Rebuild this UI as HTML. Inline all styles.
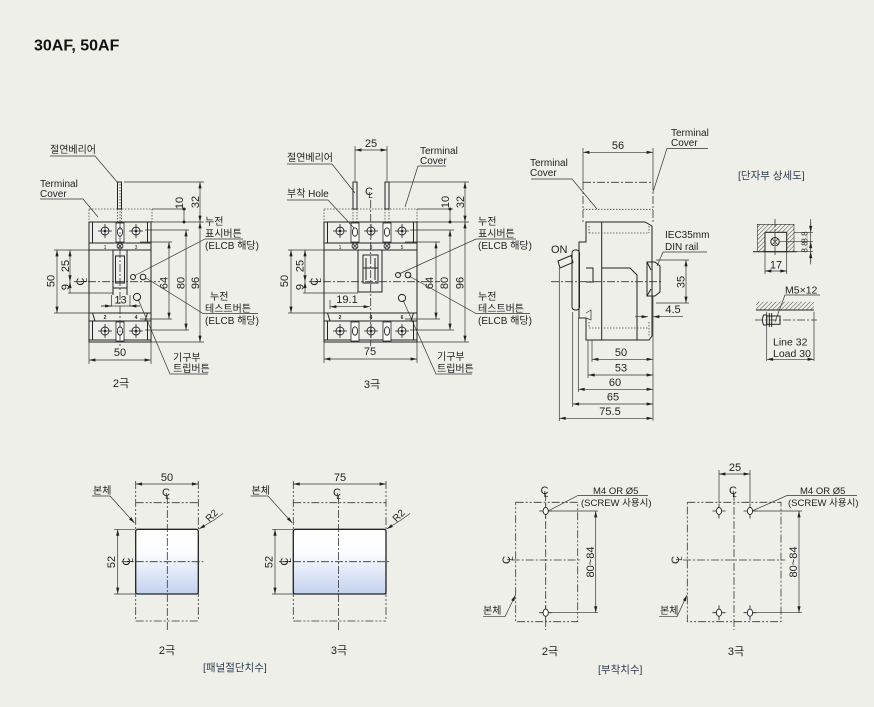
<!DOCTYPE html>
<html><head><meta charset="utf-8"><style>
html,body{margin:0;padding:0;background:#efefea;}
svg{display:block}
text{font-family:"Liberation Sans","Noto Sans CJK KR",sans-serif;fill:#1e1e1e;font-size:10px}
.k{stroke:#222;fill:none;stroke-width:1}
.kf{stroke:#222;stroke-width:1}
.t{stroke:#333;fill:none;stroke-width:0.7}
.cl{stroke:#333;fill:none;stroke-width:0.8;stroke-dasharray:8 2 2 2}
.cc{stroke:#333;fill:none;stroke-width:0.8;stroke-dasharray:8 2 2 2 2 2}
.dt{stroke:#444;fill:none;stroke-width:0.8;stroke-dasharray:1.5 1.5}
.d{stroke:#333;fill:none;stroke-width:0.7;marker-start:url(#a);marker-end:url(#a)}
.e{stroke:#333;fill:none;stroke-width:0.7;marker-end:url(#a)}
.m{text-anchor:middle}
.s{font-size:11px}
.c{fill:#2d3b4d;font-size:10.5px}
</style></head><body>
<svg width="874" height="707" viewBox="0 0 874 707" xmlns="http://www.w3.org/2000/svg">
<defs>
<marker id="a" viewBox="0 0 8 4" refX="8" refY="2" markerWidth="7" markerHeight="3.2" markerUnits="userSpaceOnUse" orient="auto-start-reverse"><path d="M0,0L8,2L0,4z" fill="#222"/></marker>
<linearGradient id="g" x1="0" y1="0" x2="0" y2="1">
<stop offset="0" stop-color="#ffffff"/><stop offset="0.4" stop-color="#fdfdff"/><stop offset="1" stop-color="#c2d0ee"/>
</linearGradient>
<linearGradient id="g2" x1="0" y1="0" x2="0" y2="1">
<stop offset="0" stop-color="#ffffff"/><stop offset="0.35" stop-color="#fcfdff"/><stop offset="1" stop-color="#c3d1ef"/>
</linearGradient>
<pattern id="tc" width="4" height="13" patternUnits="userSpaceOnUse" x="0" y="209"><rect x="0.6" y="3" width="2.8" height="2.6" fill="none" stroke="#999" stroke-width="0.5"/><rect x="0.6" y="7" width="2.8" height="2.6" fill="none" stroke="#999" stroke-width="0.5"/></pattern>
<pattern id="h" width="3" height="3" patternUnits="userSpaceOnUse" patternTransform="rotate(45)"><line x1="0" y1="0" x2="0" y2="3" stroke="#333" stroke-width="0.9"/></pattern>
<g id="xh"><circle r="4" fill="#fff" stroke="#222" stroke-width="0.9"/><path d="M-7,0H7M0,-7V7" stroke="#222" stroke-width="0.8"/><circle r="1.3" fill="#222"/></g>
<g id="sl"><rect x="-4" y="-9" width="8" height="19" fill="#fff" stroke="#222" stroke-width="0.8"/><ellipse rx="2.6" ry="4.2" fill="#fff" stroke="#222" stroke-width="0.9"/></g>
<g id="sc"><circle r="3" fill="#ddd" stroke="#222" stroke-width="0.8"/><path d="M-2,-2L2,2M2,-2L-2,2" stroke="#222" stroke-width="0.7"/></g>
<g id="ho"><ellipse rx="2.6" ry="3.6" fill="#fff" stroke="#222" stroke-width="0.9"/><path d="M-6.5,0H-2.6M2.6,0H6.5M0,-7.5V-3.6M0,3.6V7.5" stroke="#222" stroke-width="0.8"/></g>
</defs>
<rect width="874" height="707" fill="#efefea"/>

<text x="34" y="50.5" style="font-size:16px;font-weight:bold;fill:#111">30AF, 50AF</text>

<!-- ================= 2-POLE FRONT ================= -->
<rect x="89" y="209" width="63" height="13" fill="url(#tc)" class="dt"/>
<rect x="117.5" y="182" width="4" height="27" fill="#fff" class="k"/>
<path class="dt" d="M117.5,209V222M121.5,209V222"/>
<rect x="89" y="222" width="62" height="120" fill="url(#g)" class="k"/>
<path class="k" d="M89,243H151M89,250H151M92.5,222V243M147.5,222V243M89,313H151M89,321H151M92.5,321V340M147.5,321V340M89,340H151M92.5,313L95,321M147.5,313L145,321"/>
<use href="#xh" x="105" y="231"/><use href="#xh" x="136" y="231"/>
<use href="#sl" x="120" y="232"/><use href="#sc" x="120" y="246"/>
<text x="105" y="249" class="m" style="font-size:5px">1</text><text x="136" y="249" class="m" style="font-size:5px">3</text>
<text x="105" y="319" class="m" style="font-size:5px;font-weight:bold">2</text><text x="136" y="319" class="m" style="font-size:5px;font-weight:bold">4</text>
<rect x="113" y="250" width="14" height="38" fill="#fff" class="k"/>
<rect x="115.5" y="256" width="9" height="27" fill="#f4f6fc" class="k"/>
<path class="k" d="M113,288V295M127,288V295"/>
<use href="#xh" x="105" y="331"/><use href="#xh" x="136" y="331"/>
<use href="#sl" x="120" y="331"/>
<circle cx="133" cy="277" r="2.5" fill="#fff" class="k"/><circle cx="143" cy="277" r="2.8" fill="#fff" class="k"/>
<circle cx="137" cy="297" r="3.6" fill="#fff" class="k"/>
<path class="cl" d="M74,281.7H160M120,222V346"/>
<path class="dt" d="M120,184V222"/>
<!-- dims 2-pole -->
<path class="t" d="M89,342V364M151,342V364"/>
<line x1="89" y1="360" x2="151" y2="360" class="d"/>
<text x="120" y="356" class="m s">50</text>
<path class="t" d="M54,250H113M54,313H100M68,293H113"/>
<line x1="57" y1="250" x2="57" y2="313" class="d"/>
<text transform="translate(54.5,281) rotate(-90)" class="m s">50</text>
<line x1="70" y1="250" x2="70" y2="281.7" class="d"/>
<text transform="translate(69,266) rotate(-90)" class="m s">25</text>
<line x1="70" y1="293" x2="70" y2="281.7" class="e"/>
<text transform="translate(69,287) rotate(-90)" class="m s">9</text>
<g transform="translate(80,281.7) rotate(-90)"><text x="0" y="4" class="m" style="font-size:11px">C</text><text x="1.5" y="7" class="m" style="font-size:8px">L</text></g>
<path class="t" d="M111.5,295V306.5M130,295V306.5"/>
<path class="t" d="M101,306H140"/>
<line x1="101" y1="306" x2="111.5" y2="306" class="e"/><line x1="140" y1="306" x2="130" y2="306" class="e"/>
<text x="120.5" y="303.5" class="m s">13</text>
<path class="t" d="M152,209H186M152,222H204M124,182H204M151,342H204M145,230H189M145,330H189M140,242H172M140,319H172"/>
<line x1="184" y1="209" x2="184" y2="222" class="t"/>
<circle cx="184" cy="209" r="1.5" fill="#222"/><circle cx="184" cy="222" r="1.5" fill="#222"/>
<text transform="translate(183,203) rotate(-90)" class="m s">10</text>
<line x1="200" y1="182" x2="200" y2="222" class="d"/>
<text transform="translate(199,202) rotate(-90)" class="m s">32</text>
<line x1="200" y1="222" x2="200" y2="342" class="d"/>
<text transform="translate(199,283) rotate(-90)" class="m s">96</text>
<line x1="186" y1="230" x2="186" y2="330" class="d"/>
<text transform="translate(184.5,283) rotate(-90)" class="m s">80</text>
<line x1="169" y1="242" x2="169" y2="319" class="d"/>
<text transform="translate(167.5,283) rotate(-90)" class="m s">64</text>
<!-- labels 2-pole -->
<text x="50" y="153">절연베리어</text>
<path class="t" d="M50,156H95L118,183"/>
<text x="40" y="187">Terminal</text><text x="40" y="197">Cover</text>
<path class="t" d="M40,199H83L98,217"/>
<text x="205" y="225">누전</text><text x="205" y="237">표시버튼</text><text x="205" y="249">(ELCB 해당)</text>
<path class="t" d="M243,239H205L134,276"/>
<text x="210" y="300">누전</text><text x="205" y="312">테스트버튼</text><text x="205" y="324">(ELCB 해당)</text>
<path class="t" d="M258,313.5H203L146,278"/>
<text x="173" y="361">기구부</text><text x="173" y="372">트립버튼</text>
<path class="t" d="M208,374H170L138,299"/>
<text x="121" y="387" class="m s">2극</text>

<!-- ================= 3-POLE FRONT ================= -->
<rect x="324" y="209" width="93" height="13" fill="url(#tc)" class="dt"/>
<rect x="353" y="182" width="4" height="27" fill="#fff" class="k"/>
<rect x="385" y="182" width="4" height="27" fill="#fff" class="k"/>
<path class="dt" d="M353,209V222M357,209V222M385,209V222M389,209V222"/>
<rect x="324" y="222" width="93" height="120" fill="url(#g)" class="k"/>
<path class="k" d="M324,243H417M324,250H417M327.5,222V243M413.5,222V243M324,313H417M324,321H417M327.5,321V340M413.5,321V340M324,340H417M327.5,313L330,321M413.5,313L411,321"/>
<use href="#xh" x="340" y="231"/><use href="#xh" x="371" y="231"/><use href="#xh" x="402" y="231"/>
<use href="#sl" x="355" y="232"/><use href="#sl" x="387" y="232"/>
<use href="#sc" x="355" y="246"/><use href="#sc" x="387" y="246"/>
<text x="340" y="249" class="m" style="font-size:5px">1</text><text x="371" y="249" class="m" style="font-size:5px">3</text><text x="402" y="249" class="m" style="font-size:5px">5</text>
<text x="340" y="319" class="m" style="font-size:5px;font-weight:bold">2</text><text x="371" y="319" class="m" style="font-size:5px;font-weight:bold">4</text><text x="402" y="319" class="m" style="font-size:5px;font-weight:bold">6</text>
<rect x="358" y="250" width="24" height="42" fill="#fff" class="k"/>
<rect x="363" y="255" width="15" height="28" fill="#f4f6fc" class="k"/>
<path class="k" d="M366,258V280M375,258V280M363,268H378"/>
<use href="#xh" x="340" y="331"/><use href="#xh" x="371" y="331"/><use href="#xh" x="402" y="331"/>
<use href="#sl" x="355" y="331"/><use href="#sl" x="387" y="331"/>
<circle cx="398" cy="275" r="2.5" fill="#fff" class="k"/><circle cx="408" cy="275" r="2.8" fill="#fff" class="k"/>
<circle cx="402" cy="298" r="3.6" fill="#fff" class="k"/>
<path class="cl" d="M309,281.7H440M370.7,200V346"/>
<g transform="translate(369,191)"><text x="0" y="4" class="m" style="font-size:11px">C</text><text x="1.5" y="7" class="m" style="font-size:8px">L</text></g>
<!-- dims 3-pole -->
<path class="t" d="M355,146V181M387,146V181"/>
<line x1="355" y1="150" x2="387" y2="150" class="d"/>
<text x="371" y="147" class="m s">25</text>
<path class="t" d="M324,342V363M417,342V363"/>
<line x1="324" y1="359" x2="417" y2="359" class="d"/>
<text x="370" y="355" class="m s">75</text>
<path class="t" d="M288,250H358M288,313H335M303,293H358"/>
<line x1="291" y1="250" x2="291" y2="313" class="d"/>
<text transform="translate(288,281) rotate(-90)" class="m s">50</text>
<line x1="305" y1="250" x2="305" y2="281.7" class="d"/>
<text transform="translate(303.5,266) rotate(-90)" class="m s">25</text>
<line x1="305" y1="293" x2="305" y2="281.7" class="e"/>
<text transform="translate(303.5,287) rotate(-90)" class="m s">9</text>
<g transform="translate(314,281.7) rotate(-90)"><text x="0" y="4" class="m" style="font-size:11px">C</text><text x="1.5" y="7" class="m" style="font-size:8px">L</text></g>
<line x1="330" y1="306.7" x2="370" y2="306.7" class="d"/>
<path class="t" d="M330,300V309"/>
<text x="347" y="303" class="m s">19.1</text>
<path class="t" d="M417,209H453M417,222H469M389,182H469M417,342H469M410,230H454M410,330H454M405,242H440M405,319H440"/>
<line x1="450" y1="209" x2="450" y2="222" class="t"/>
<circle cx="450" cy="209" r="1.5" fill="#222"/><circle cx="450" cy="222" r="1.5" fill="#222"/>
<text transform="translate(449,202) rotate(-90)" class="m s">10</text>
<line x1="465" y1="182" x2="465" y2="222" class="d"/>
<text transform="translate(464,202) rotate(-90)" class="m s">32</text>
<line x1="465" y1="222" x2="465" y2="342" class="d"/>
<text transform="translate(463.5,283) rotate(-90)" class="m s">96</text>
<line x1="450" y1="230" x2="450" y2="330" class="d"/>
<text transform="translate(448,283) rotate(-90)" class="m s">80</text>
<line x1="436" y1="242" x2="436" y2="319" class="d"/>
<text transform="translate(433,283) rotate(-90)" class="m s">64</text>
<!-- labels 3-pole -->
<text x="287" y="161">절연베리어</text>
<path class="t" d="M287,164H332L355,193"/>
<text x="287" y="197">부착 Hole</text>
<path class="t" d="M287,200H328L354,228"/>
<text x="420" y="154">Terminal</text><text x="420" y="164">Cover</text>
<path class="t" d="M446,166H418L405,207"/>
<text x="478" y="225">누전</text><text x="478" y="237">표시버튼</text><text x="478" y="249">(ELCB 해당)</text>
<path class="t" d="M516,239H476L399,274"/>
<text x="478" y="300">누전</text><text x="478" y="312">테스트버튼</text><text x="478" y="324">(ELCB 해당)</text>
<path class="t" d="M530,313.5H476L409,276"/>
<text x="437" y="360">기구부</text><text x="437" y="372">트립버튼</text>
<path class="t" d="M472,374H436L403,300"/>
<text x="372" y="388" class="m s">3극</text>

<!-- ================= SIDE VIEW ================= -->
<path class="t" d="M583,148V182M653,148V182"/>
<line x1="583" y1="152.3" x2="653" y2="152.3" class="d"/>
<text x="618" y="149" class="m s">56</text>
<path class="cl" d="M583,182.3H653M583,182V222M653,182V222"/>
<path class="dt" d="M583,209.3H653"/>
<text x="530" y="166">Terminal</text><text x="530" y="176">Cover</text>
<path class="t" d="M531,179H572L597,209"/>
<text x="671" y="136">Terminal</text><text x="671" y="146">Cover</text>
<path class="t" d="M708,148.5H667L653,192"/>
<path d="M586,222H645L652,226V336L649,340H586V318H579V242H586Z" fill="url(#g2)" class="k"/>
<rect x="572" y="250" width="7.5" height="60" rx="3" fill="url(#g2)" class="k"/>
<path d="M579,242V318" class="k"/>
<polygon points="558,261 571,255.5 573,262.5 560,268" fill="#fff" class="k"/>
<path class="k" d="M601.7,222V340M601.7,268H630L637,275V340M586,268H593V282H586"/>
<path class="t" d="M586,313L591,310V320L586,318"/>
<path class="dt" d="M589,233H649M589,328H649M589,226V233M649,226V233M589,322V328M649,322V336"/>
<path d="M647,262H655L660,266V292L655,296H647Z" fill="url(#g2)" class="k"/>
<path class="k" d="M652,262V296M647,262L651,270M647,296L651,289"/>
<path class="cl" d="M551,281.7H662"/>
<text x="665" y="238">IEC35mm</text><text x="665" y="250">DIN rail</text>
<path class="t" d="M707,252H663L657,266"/>
<path class="t" d="M656,260H689M656,303H689"/>
<line x1="686" y1="260" x2="686" y2="303" class="d"/>
<text transform="translate(684.5,282) rotate(-90)" class="m s">35</text>
<line x1="635" y1="316.7" x2="648" y2="316.7" class="e"/>
<line x1="683" y1="316.7" x2="653" y2="316.7" class="e"/>
<text x="673" y="313" class="m s">4.5</text>
<text x="551" y="253" class="s">ON</text>
<path class="t" d="M653,296V421M592,340V362M588,340V378M578.3,318V392M572.7,312V407M559.3,268V421"/>
<line x1="592" y1="359.3" x2="653" y2="359.3" class="d"/>
<text x="621" y="356" class="m s">50</text>
<line x1="588.3" y1="375" x2="653" y2="375" class="d"/>
<text x="621" y="371.5" class="m s">53</text>
<line x1="578.3" y1="389.3" x2="653" y2="389.3" class="d"/>
<text x="615" y="386" class="m s">60</text>
<line x1="572.7" y1="404" x2="653" y2="404" class="d"/>
<text x="613" y="400.5" class="m s">65</text>
<line x1="559.3" y1="418.3" x2="653" y2="418.3" class="d"/>
<text x="610" y="415" class="m s">75.5</text>

<!-- ================= DETAIL ================= -->
<text x="738" y="179" class="c">[단자부 상세도]</text>
<path d="M757.3,224.3H794V251.7H786.7V232.3H765V251.7H757.3Z" fill="url(#h)" stroke="#333" stroke-width="0.6"/>
<rect x="765" y="232.3" width="21.7" height="19.4" fill="#fff" class="k"/>
<path class="k" d="M753,251.7H797"/>
<circle cx="775" cy="241.7" r="4.2" fill="#fff" class="k"/>
<path class="t" d="M772,238.7L778,244.7M778,238.7L772,244.7"/>
<path class="cl" d="M775,219V256"/>
<path class="t" d="M794,232.3H813M780,241.7H813M797,251.7H813M765,252V274M786.7,252V274"/>
<path class="t" d="M810.7,219V264.3"/>
<line x1="810.7" y1="222" x2="810.7" y2="232.3" class="e"/><line x1="810.7" y1="251" x2="810.7" y2="241.7" class="e"/>
<line x1="810.7" y1="262" x2="810.7" y2="251.7" class="e"/>
<text transform="translate(807.5,237) rotate(-90)" class="m" style="font-size:8px">8.8</text>
<text transform="translate(807.5,247) rotate(-90)" class="m" style="font-size:8px">8.8</text>
<line x1="765" y1="271" x2="786.7" y2="271" class="d"/>
<text x="776" y="268.5" class="m s">17</text>

<rect x="756" y="301.7" width="58" height="8.3" fill="url(#h)" stroke="none"/>
<path class="k" d="M756,310H814"/>
<path d="M766.7,315V325H763.5Q761.5,320 763.5,315Z" fill="#fff" class="k"/>
<rect x="766.7" y="316" width="13.3" height="8.3" fill="#fff" class="k"/>
<path class="k" d="M769.3,313V327M771.7,313V327"/>
<path class="cl" d="M755,320H817"/>
<text x="785" y="293.5" style="font-size:10.5px">M5×12</text>
<path class="t" d="M820,295H785L775,321.7"/>
<path class="t" d="M766.7,311.7V361M814,311.7V361"/>
<line x1="766.7" y1="359.3" x2="814" y2="359.3" class="d"/>
<text x="773" y="345.5" style="font-size:10.5px">Line 32</text>
<text x="773" y="357" style="font-size:10.5px">Load 30</text>

<!-- ================= PANEL CUT 2-POLE ================= -->
<path class="cc" d="M135.7,481V621M198.3,481V621M135.7,502.7H198.3M135.7,621H198.3"/>
<rect x="135.7" y="529.3" width="62.6" height="64.7" rx="2" fill="url(#g2)" stroke="#222" stroke-width="1.3"/>
<path class="cl" d="M167.3,496V630M121.7,561.7H203.3"/>
<line x1="135.7" y1="484" x2="198.3" y2="484" class="d"/>
<text x="167" y="481" class="m s">50</text>
<g transform="translate(166,492)"><text x="0" y="4" class="m" style="font-size:11px">C</text><text x="1.5" y="7" class="m" style="font-size:8px">L</text></g>
<path class="t" d="M114,529.3H135M114,594H135"/>
<line x1="117.7" y1="529.3" x2="117.7" y2="594" class="d"/>
<text transform="translate(115,562) rotate(-90)" class="m s">52</text>
<g transform="translate(126,561.7) rotate(-90)"><text x="0" y="4" class="m" style="font-size:11px">C</text><text x="1.5" y="7" class="m" style="font-size:8px">L</text></g>
<text x="93" y="494">본체</text>
<path class="t" d="M92,496H110"/><line x1="110" y1="496" x2="134.5" y2="523" class="e"/>
<text transform="translate(214,518) rotate(-45)" class="m">R2</text>
<path class="t" d="M223,513.5L214,520"/><line x1="214" y1="520" x2="199" y2="529" class="e"/>
<text x="167" y="654" class="m s">2극</text>

<!-- ================= PANEL CUT 3-POLE ================= -->
<path class="cc" d="M293.3,481V621M386,481V621M293.3,502.7H386M293.3,621H386"/>
<rect x="293.3" y="529.3" width="92.7" height="64.7" rx="2" fill="url(#g2)" stroke="#222" stroke-width="1.3"/>
<path class="cl" d="M338.5,496V630M279,561.7H390"/>
<line x1="293.3" y1="484" x2="386" y2="484" class="d"/>
<text x="340" y="481" class="m s">75</text>
<g transform="translate(337,492)"><text x="0" y="4" class="m" style="font-size:11px">C</text><text x="1.5" y="7" class="m" style="font-size:8px">L</text></g>
<path class="t" d="M272,529.3H293M272,594H293"/>
<line x1="275" y1="529.3" x2="275" y2="594" class="d"/>
<text transform="translate(272.5,562) rotate(-90)" class="m s">52</text>
<g transform="translate(284,561.7) rotate(-90)"><text x="0" y="4" class="m" style="font-size:11px">C</text><text x="1.5" y="7" class="m" style="font-size:8px">L</text></g>
<text x="251.5" y="494">본체</text>
<path class="t" d="M250.5,496H268"/><line x1="268" y1="496" x2="292.3" y2="523" class="e"/>
<text transform="translate(401,518) rotate(-45)" class="m">R2</text>
<path class="t" d="M410,513.5L401,520"/><line x1="401" y1="520" x2="386.7" y2="529" class="e"/>
<text x="339" y="654" class="m s">3극</text>
<text x="203" y="671" class="c">[패널절단치수]</text>

<!-- ================= MOUNTING 2-POLE ================= -->
<rect x="515.7" y="502.3" width="62" height="119.4" class="cc"/>
<path class="cl" d="M545.7,493V630M511.7,560H581.7"/>
<use href="#ho" x="545.7" y="511"/><use href="#ho" x="545.7" y="612.7"/>
<path class="t" d="M551,511H598M551,612.7H598"/>
<line x1="595.7" y1="511" x2="595.7" y2="612.7" class="d"/>
<text transform="translate(594,562) rotate(-90)" class="m s">80~84</text>
<text x="593" y="494" style="font-size:9.5px">M4 OR Ø5</text>
<text x="581" y="506" style="font-size:9.5px">(SCREW 사용시)</text>
<path class="t" d="M648,495.5H578L548,511"/>
<g transform="translate(544.5,490)"><text x="0" y="4" class="m" style="font-size:11px">C</text><text x="1.5" y="7" class="m" style="font-size:8px">L</text></g>
<g transform="translate(506,560) rotate(-90)"><text x="0" y="4" class="m" style="font-size:11px">C</text><text x="1.5" y="7" class="m" style="font-size:8px">L</text></g>
<text x="483" y="614">본체</text>
<path class="t" d="M483,616.7H505"/><line x1="505" y1="616.7" x2="515.5" y2="595" class="e"/>
<text x="550" y="655" class="m s">2극</text>

<!-- ================= MOUNTING 3-POLE ================= -->
<rect x="687.3" y="502.3" width="93.7" height="119.4" class="cc"/>
<path class="cl" d="M734,493V630M683,560H785"/>
<use href="#ho" x="719" y="511"/><use href="#ho" x="750" y="511"/>
<use href="#ho" x="719" y="612.7"/><use href="#ho" x="750" y="612.7"/>
<path class="t" d="M719,470V503M750,470V503"/>
<line x1="719" y1="474" x2="750" y2="474" class="d"/>
<text x="735" y="471" class="m s">25</text>
<path class="t" d="M755,511H802M755,612.7H802"/>
<line x1="799" y1="511" x2="799" y2="612.7" class="d"/>
<text transform="translate(797,562) rotate(-90)" class="m s">80~84</text>
<text x="800" y="494" style="font-size:9.5px">M4 OR Ø5</text>
<text x="788" y="506" style="font-size:9.5px">(SCREW 사용시)</text>
<path class="t" d="M857,495.5H787L752,511"/>
<g transform="translate(733,490)"><text x="0" y="4" class="m" style="font-size:11px">C</text><text x="1.5" y="7" class="m" style="font-size:8px">L</text></g>
<g transform="translate(675,560) rotate(-90)"><text x="0" y="4" class="m" style="font-size:11px">C</text><text x="1.5" y="7" class="m" style="font-size:8px">L</text></g>
<text x="660" y="614">본체</text>
<path class="t" d="M659,616.7H677"/><line x1="677" y1="616.7" x2="687" y2="595" class="e"/>
<text x="736" y="655" class="m s">3극</text>
<text x="598" y="673" class="c">[부착치수]</text>
</svg>
</body></html>
